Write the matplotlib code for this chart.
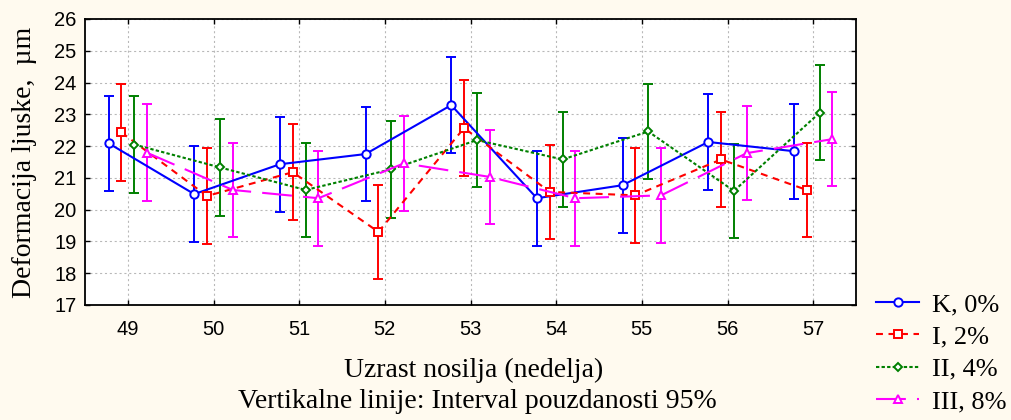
import matplotlib
matplotlib.use("Agg")
import matplotlib.pyplot as plt
import numpy as np

# Data (means and 95% CI half widths)
weeks = [49, 50, 51, 52, 53, 54, 55, 56, 57]
labels = ["K, 0%", "I, 2%", "II, 4%", "III, 8%"]

k_mean = [22.09, 20.49, 21.43, 21.75, 23.29, 20.36, 20.77, 22.13, 21.84]
k_ci = [1.49, 1.52, 1.49, 1.49, 1.50, 1.50, 1.49, 1.50, 1.50]
i_mean = [22.43, 20.43, 21.18, 19.30, 22.57, 20.56, 20.45, 21.58, 20.62]
i_ci = [1.52, 1.50, 1.52, 1.49, 1.50, 1.49, 1.49, 1.49, 1.49]
ii_mean = [22.05, 21.33, 20.62, 21.27, 22.19, 21.58, 22.46, 20.59, 23.05]
ii_ci = [1.52, 1.52, 1.49, 1.52, 1.49, 1.49, 1.49, 1.49, 1.49]
iii_mean = [21.79, 20.62, 20.36, 21.46, 21.03, 20.36, 20.45, 21.78, 22.22]
iii_ci = [1.52, 1.49, 1.50, 1.49, 1.49, 1.50, 1.49, 1.48, 1.48]

means = [k_mean, i_mean, ii_mean, iii_mean]
cis = [k_ci, i_ci, ii_ci, iii_ci]

plt.rcParams['font.family'] = 'serif'
plt.rcParams['font.serif'] = ['Liberation Serif', 'DejaVu Serif']
plt.rcParams['lines.scale_dashes'] = False

colors = ['#0000ff', '#ff0000', '#008000', '#ff00ff']
offsets = [-0.225, -0.075, 0.075, 0.225]
markers = ['o', 's', 'D', '^']
msizes = [6.0, 5.6, 4.0, 6.4]
dash_list = [None, (5, 4), (2.4, 1.6), (21.5, 8)]

bg = '#fffaef'
fig = plt.figure(figsize=(10.11, 4.20), dpi=100, facecolor=bg)
ax = fig.add_axes([85/1011, 1 - 305/420, (856 - 85)/1011, (305 - 19)/420])
ax.set_facecolor('white')

x = np.array(weeks, dtype=float)
handles = []
for m, ci, c, off, mk, ms, dsh, lab in zip(means, cis, colors, offsets,
                                            markers, msizes, dash_list, labels):
    ax.errorbar(x + off, m, yerr=ci, fmt='none', ecolor=c, elinewidth=1.4,
                capsize=3.3, capthick=1.4, zorder=2)
    kw = dict(color=c, lw=1.5, marker=mk, ms=ms, mfc='white', mec=c,
              mew=1.4, label=lab, zorder=3)
    if dsh is not None:
        kw['dashes'] = dsh
    ln, = ax.plot(x + off, m, **kw)
    handles.append(ln)

ax.set_xlim(48.5, 57.5)
ax.set_ylim(17, 26)
ax.set_xticks(weeks)
ax.set_yticks(range(17, 27))
ax.grid(True, color='#b8b8b8', lw=0.8, dashes=(1.5, 2))
ax.set_axisbelow(True)
ax.tick_params(direction='in', length=3.6, width=1, top=True, right=True,
               labelsize=14.5, pad=6)
ax.tick_params(axis='x', pad=10.5)
for t in ax.get_xticklabels() + ax.get_yticklabels():
    t.set_fontfamily('Liberation Sans')
for s in ax.spines.values():
    s.set_linewidth(1.3)

fig.text(474/1011, 1 - 370/420, 'Uzrast nosilja (nedelja)', fontsize=20,
         ha='center', va='center')
fig.text(477/1011, 1 - 402/420, 'Vertikalne linije: Interval pouzdanosti 95%',
         fontsize=20, ha='center', va='center')
fig.text(25/1011, 1 - 162/420, 'Deformacija ljuske,  \u00b5m', fontsize=20,
         rotation=90, ha='center', va='center')

fig.legend(handles=handles, loc='upper left',
           bbox_to_anchor=(876/1011, 1 - 293/420), frameon=False,
           fontsize=19, borderpad=0, borderaxespad=0, handlelength=1.63,
           handletextpad=0.5, labelspacing=0.33)

fig.savefig('out.png', dpi=100, facecolor=bg)
